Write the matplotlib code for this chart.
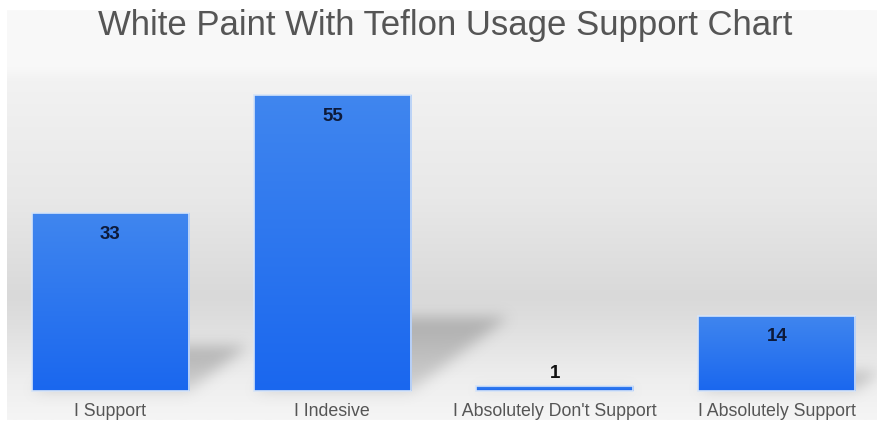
import numpy as np
import matplotlib
matplotlib.use("Agg")
from matplotlib import pyplot as plt
from matplotlib.colors import LinearSegmentedColormap
from matplotlib.patches import Rectangle

# data
categories = ["I Support", "I Indesive", "I Absolutely Don't Support", "I Absolutely Support"]
values = [33, 55, 1, 14]
title = "White Paint With Teflon Usage Support Chart"

plt.rcParams['font.family'] = ['Liberation Sans', 'DejaVu Sans']

fig = plt.figure(figsize=(8.78, 4.26), dpi=100)
fig.patch.set_facecolor('white')

# axes placed in pixel terms: x 7..878, y 10..420 (from top)
W, H = 878, 426
ax = fig.add_axes([7 / W, (H - 420) / H, (878 - 7) / W, 410 / H])
ppu = 5.38  # pixels per value unit
x0, x1 = (7 - 110) / 222, 3 + (878 - 777) / 222
y0, y1 = -(420 - 391) / ppu, (391 - 10) / ppu
ax.set_xlim(x0, x1)
ax.set_ylim(y0, y1)
ax.axis('off')

# gray background gradient (top -> bottom)
bg = LinearSegmentedColormap.from_list('bg', [
    (0.0, '#f9f9f9'), (0.14, '#f8f8f8'), (0.17, '#f2f2f2'), (0.46, '#e8e8e8'),
    (0.70, '#d9d9d9'), (0.78, '#e0e0e0'), (0.90, '#eeeeee'), (1.0, '#f5f5f5')])
grad = np.linspace(0, 1, 256).reshape(-1, 1)
ax.imshow(grad, cmap=bg, aspect='auto', extent=[x0, x1, y0, y1],
          origin='upper', zorder=0)

width = 0.707
x = np.arange(len(values))

# soft diagonal shadows behind the bars (blurred mask in pixel space)
nx, ny = 871, 410
px = np.linspace(x0, x1, nx)
py = np.linspace(y1, y0, ny)
PX, PY = np.meshgrid(px, py)
mask = np.zeros((ny, nx))
for xi, v in zip(x, values):
    left, right = xi - width / 2, xi + width / 2
    dx = v * 0.0080
    dy = v * 0.25
    t = np.clip(PY / dy, 0, None) if dy > 0 else PY * 0
    inside = (PY >= 0) & (PY <= dy) & (PX >= left + t * dx) & (PX <= right + t * dx)
    mask = np.maximum(mask, inside * (0.55 + 0.45 * t))
kern = np.exp(-0.5 * (np.arange(-20, 21) / 7.0) ** 2)
kern /= kern.sum()
blur = np.apply_along_axis(lambda r: np.convolve(r, kern, mode='same'), 1, mask)
blur = np.apply_along_axis(lambda c: np.convolve(c, kern, mode='same'), 0, blur)
shadow = np.zeros((ny, nx, 4))
shadow[..., :3] = 0.45
shadow[..., 3] = np.clip(blur * 0.45, 0, 1)
ax.imshow(shadow, aspect='auto', extent=[x0, x1, y0, y1], origin='upper', zorder=1)

# bars with vertical blue gradient
bar_cmap = LinearSegmentedColormap.from_list('bar', ['#1a67ef', '#4086ee'])
for xi, v in zip(x, values):
    left = xi - width / 2
    rect = Rectangle((left, 0), width, v, facecolor='none', edgecolor='#d6e4f8',
                     linewidth=1.2, zorder=3)
    ax.add_patch(rect)
    im = ax.imshow(grad, cmap=bar_cmap, aspect='auto',
                   extent=[left, left + width, 0, v], origin='lower', zorder=2)
    im.set_clip_path(rect)
    if v < 5:
        ax.text(xi, v + 2.3, str(v), ha='center', va='center', fontsize=13.5,
                fontweight='bold', color='#111111', zorder=4)
    else:
        ax.text(xi, v - 3.9, str(v), ha='center', va='center', fontsize=13.5,
                fontweight='bold', color='#0d1a3a', zorder=4)

ax.set_xlim(x0, x1)
ax.set_ylim(y0, y1)

# category labels
for xi, c in zip(x, categories):
    ax.text(xi, -3.75, c, ha='center', va='center', fontsize=12.8, color='#555555', zorder=4)

fig.text(445 / W, 1 - 26 / H, title, ha='center', va='center', fontsize=25, color='#555555')

fig.savefig('out.png', dpi=100)
